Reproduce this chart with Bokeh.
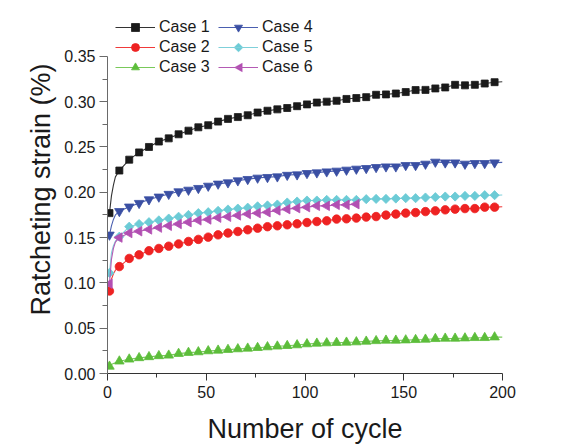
import numpy as np
from bokeh.plotting import figure
from bokeh.models import (Range1d, FixedTicker, PrintfTickFormatter, Legend, LegendItem,
                          ColumnDataSource, PolyAnnotation)
from bokeh.embed import file_html
from bokeh.resources import INLINE

# ---------------- data ----------------
marker_cycles = list(range(1, 197, 5))  # 1, 6, ..., 196

case1 = [0.177, 0.224, 0.236, 0.244, 0.250, 0.256, 0.2595, 0.264, 0.268, 0.2717,
         0.274, 0.278, 0.281, 0.283, 0.285, 0.288, 0.290, 0.2915, 0.293, 0.295,
         0.297, 0.299, 0.300, 0.301, 0.303, 0.304, 0.305, 0.3076, 0.308, 0.309,
         0.3106, 0.3128, 0.313, 0.3146, 0.3157, 0.3186, 0.318, 0.3186, 0.320, 0.3215]
case2 = [0.091, 0.118, 0.127, 0.131, 0.1355, 0.138, 0.1405, 0.143, 0.1457, 0.148,
         0.1505, 0.153, 0.155, 0.1567, 0.1586, 0.1604, 0.162, 0.163, 0.1641, 0.1652,
         0.1666, 0.1677, 0.1685, 0.1704, 0.1707, 0.1715, 0.1726, 0.1732, 0.1748, 0.1759,
         0.177, 0.1776, 0.1787, 0.1795, 0.1806, 0.1814, 0.182, 0.182, 0.1836, 0.1836]
case3 = [0.0078, 0.0135, 0.0157, 0.0172, 0.0183, 0.0194, 0.020, 0.0219, 0.023, 0.0237,
         0.0248, 0.0255, 0.0263, 0.027, 0.0277, 0.0284, 0.0292, 0.030, 0.0306, 0.0314,
         0.0325, 0.0332, 0.0336, 0.034, 0.0343, 0.0347, 0.0354, 0.036, 0.0365, 0.0365,
         0.0368, 0.0372, 0.0376, 0.0383, 0.0387, 0.0387, 0.039, 0.0394, 0.0394, 0.0401]
case4 = [0.153, 0.179, 0.184, 0.188, 0.192, 0.195, 0.198, 0.2008, 0.2026, 0.2045,
         0.207, 0.2093, 0.2107, 0.2129, 0.2144, 0.2159, 0.2166, 0.2173, 0.219, 0.2195,
         0.221, 0.2217, 0.2228, 0.2236, 0.2247, 0.2258, 0.2265, 0.2276, 0.2283, 0.2283,
         0.2298, 0.2298, 0.2313, 0.2335, 0.2327, 0.2327, 0.2313, 0.232, 0.232, 0.2327]
case5 = [0.111, 0.151, 0.162, 0.165, 0.167, 0.169, 0.171, 0.173, 0.175, 0.177,
         0.178, 0.1795, 0.181, 0.182, 0.183, 0.1845, 0.1855, 0.1865, 0.1887, 0.1898,
         0.1909, 0.1909, 0.1916, 0.1916, 0.1916, 0.1916, 0.1924, 0.1927, 0.1927, 0.1931,
         0.1935, 0.1935, 0.1942, 0.1946, 0.1953, 0.1953, 0.196, 0.196, 0.1968, 0.1968]
case6 = [0.099, 0.150, 0.155, 0.157, 0.159, 0.161, 0.163, 0.165, 0.167, 0.169,
         0.170, 0.172, 0.173, 0.1745, 0.176, 0.177, 0.178, 0.180, 0.1814, 0.1825,
         0.1836, 0.185, 0.185, 0.1861, 0.1861, 0.1869]

# extra line-only points read from the steep start (cycles 2-4) and end (cycle 200)
start_cycles = [2, 3, 4]
case1_start = [0.196, 0.208, 0.217]
case2_start = [0.104, 0.110, 0.114]
case3_start = [0.010, 0.011, 0.012]
case4_start = [0.163, 0.170, 0.175]
case5_start = [0.133, 0.141, 0.146]
case6_start = [0.126, 0.138, 0.145]
end_cycle = 200
end_values = [0.322, 0.184, 0.0401, 0.233, 0.197, None]

labels = ["Case 1", "Case 2", "Case 3", "Case 4", "Case 5", "Case 6"]
colors = ["#1a1a1a", "#ee2222", "#5cbd3a", "#3a4fa3", "#6ccbd6", "#b24fb2"]
line_colors = ["#333333", "#f03a3a", "#79c95a", "#4a5fb0", "#7fd0da", "#b45ab4"]
markers = ["square", "circle", "triangle", "inverted_triangle", "square", "triangle"]
angles = [0, 0, 0, 0, np.pi / 4, np.pi / 2]
sizes = [7, 8.5, 9.5, 9.5, 6.5, 9.5]

x_ticks = [0, 50, 100, 150, 200]
y_ticks = [0.00, 0.05, 0.10, 0.15, 0.20, 0.25, 0.30, 0.35]

series = [case1, case2, case3, case4, case5, case6]
starts = [case1_start, case2_start, case3_start, case4_start, case5_start, case6_start]

FONT = "Liberation Sans"

# frame spans almost the full height so the legend (which overlaps the top of
# the axes, as in the reference) is not clipped; the axis itself is bounded.
frame_top_px, axis_top_px, axis_bottom_px = 5, 56, 374
px_per_unit = (axis_bottom_px - axis_top_px) / (y_ticks[-1] - y_ticks[0])
y_end = y_ticks[-1] + (axis_top_px - frame_top_px) / px_per_unit

p = figure(width=569, height=446, output_backend="svg", toolbar_location=None,
           x_range=Range1d(x_ticks[0], x_ticks[-1]), y_range=Range1d(y_ticks[0], y_end),
           min_border_left=107, min_border_right=67, min_border_top=frame_top_px,
           min_border_bottom=446 - axis_bottom_px)
p.outline_line_color = None
p.grid.visible = False
p.background_fill_color = "white"
p.border_fill_color = "white"

# legend layout (screen px, relative to the frame's bottom-left corner)
LEG_X, LEG_Y, GLYPH_W, ROW_H, LABEL_W, STANDOFF, NROWS = 8, 296, 40, 20, 59, 4, 3
COL_W = GLYPH_W + STANDOFF + LABEL_W

items = []
legend_polys = []
for i in range(6):
    vals = series[i]
    mx = marker_cycles[:len(vals)]
    lx = [mx[0]] + start_cycles + mx[1:]
    ly = [vals[0]] + starts[i] + vals[1:]
    if end_values[i] is not None:
        lx = lx + [end_cycle]
        ly = ly + [end_values[i]]
    lr = p.line(lx, ly, line_color=line_colors[i], line_width=1.1)
    src = ColumnDataSource(dict(x=mx, y=vals))
    sr = p.scatter("x", "y", source=src, marker=markers[i], size=sizes[i],
                   angle=angles[i], fill_color=colors[i], line_color=colors[i],
                   line_width=0.8)
    if angles[i] == 0:
        items.append(LegendItem(label=labels[i], renderers=[lr, sr]))
    else:
        # the legend draws markers unrotated, so the rotated key symbols are
        # added as small polygons on top of the legend line
        items.append(LegendItem(label=labels[i], renderers=[lr]))
        col, row = divmod(i, NROWS)
        cx = LEG_X + col * COL_W + GLYPH_W / 2
        cy = LEG_Y + (NROWS - row - 0.5) * ROW_H
        if markers[i] == "square":   # diamond
            r = 4.6
            xs = [cx, cx + r, cx, cx - r]
            ys = [cy + r, cy, cy - r, cy]
        else:                        # left-pointing triangle
            xs = [cx - 4.2, cx + 3.8, cx + 3.8]
            ys = [cy, cy + 4.4, cy - 4.4]
        legend_polys.append(PolyAnnotation(xs=xs, ys=ys, xs_units="screen",
                                           ys_units="screen", fill_color=colors[i],
                                           fill_alpha=1.0, line_color=colors[i],
                                           line_width=0.8, level="overlay"))

legend = Legend(items=items, location=(LEG_X, LEG_Y), orientation="vertical", nrows=NROWS,
                glyph_width=GLYPH_W, glyph_height=ROW_H, label_height=ROW_H,
                label_width=LABEL_W, label_standoff=STANDOFF, spacing=0, padding=0,
                margin=0, background_fill_alpha=0, border_line_color=None,
                label_text_font=FONT, label_text_font_size="16px",
                label_text_color="#1a1a1a")
p.add_layout(legend, "center")
for poly in legend_polys:
    p.add_layout(poly)

xminor = [(a + b) / 2 for a, b in zip(x_ticks[:-1], x_ticks[1:])]
yminor = [(a + b) / 2 for a, b in zip(y_ticks[:-1], y_ticks[1:])]
p.xaxis.ticker = FixedTicker(ticks=x_ticks, minor_ticks=xminor)
p.yaxis.ticker = FixedTicker(ticks=y_ticks, minor_ticks=yminor)
p.yaxis.formatter = PrintfTickFormatter(format="%.2f")
p.yaxis.bounds = (y_ticks[0], y_ticks[-1])

for ax in (p.xaxis[0], p.yaxis[0]):
    ax.major_tick_in = 0
    ax.minor_tick_in = 0
    ax.major_label_text_font = FONT
    ax.major_label_text_font_size = "16px"
    ax.major_label_text_color = "#1a1a1a"
    ax.axis_label_text_font = FONT
    ax.axis_label_text_font_size = "27px"
    ax.axis_label_text_font_style = "normal"
    ax.axis_label_text_color = "#1a1a1a"

p.xaxis.major_tick_out = 7
p.xaxis.minor_tick_out = 4
p.yaxis.major_tick_out = 8
p.yaxis.minor_tick_out = 5
p.xaxis.major_label_standoff = 5
p.yaxis.major_label_standoff = 4
p.xaxis.axis_line_color = "#333333"
p.xaxis.major_tick_line_color = "#333333"
p.xaxis.minor_tick_line_color = "#333333"
p.yaxis.axis_line_color = "#6a6a6a"
p.yaxis.major_tick_line_color = "#6a6a6a"
p.yaxis.minor_tick_line_color = "#6a6a6a"
p.xaxis.axis_label = "Number of cycle"
p.yaxis.axis_label = "Ratcheting strain (%)"
p.xaxis.axis_label_standoff = 13
p.yaxis.axis_label_standoff = 5

open("out.html", "w").write(file_html(p, INLINE))
